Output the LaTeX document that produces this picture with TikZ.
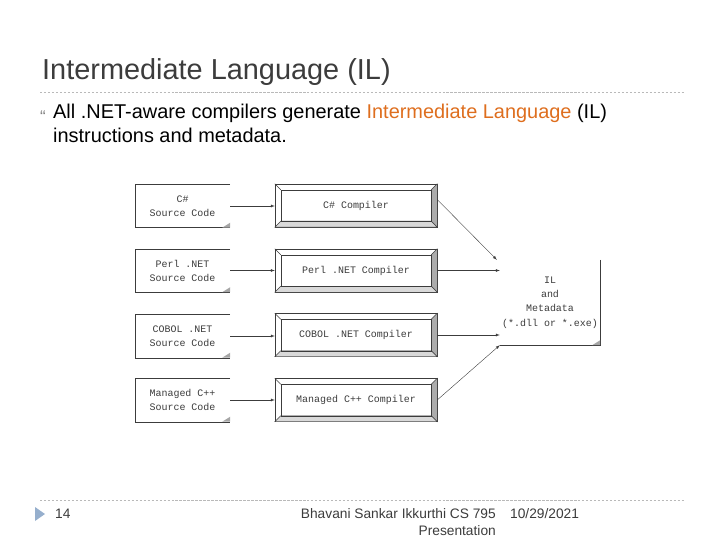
\documentclass[tikz,border=0pt]{standalone}
\usepackage{fontspec}
\setmainfont{Liberation Sans}
\setmonofont{Liberation Mono}
\usetikzlibrary{arrows,calc,positioning}
\definecolor{ilorange}{RGB}{222,110,30}
\definecolor{titlegray}{RGB}{60,60,60}
\definecolor{codegray}{RGB}{60,60,60}
\definecolor{markblue}{RGB}{150,175,205}
\tikzstyle{srcbox}=[rectangle,minimum width=95bp,minimum height=43bp,inner sep=0pt,align=center,font=\ttfamily\fontsize{10}{14}\selectfont,text=codegray]
\tikzstyle{compbox}=[rectangle,draw=codegray,minimum width=162bp,minimum height=43bp,inner sep=0pt,font=\ttfamily\fontsize{10}{14}\selectfont,text=codegray]
\tikzstyle{ildoc}=[rectangle,minimum width=100bp,minimum height=85bp,inner sep=0pt,align=center,font=\ttfamily\fontsize{10}{14.5}\selectfont,text=codegray]
\tikzstyle{edge} = [draw,thin,->,>=latex,codegray]
\tikzstyle{rule} = [draw=gray!55,dash pattern=on 2.5pt off 1.5pt]
\tikzstyle{footer} = [font=\fontsize{13.8}{16}\selectfont,text=titlegray,inner sep=0pt]

\begin{document}
\begin{tikzpicture}[x=1bp,y=-1bp]
\useasboundingbox (0,0) rectangle (720,540);

%title and text
    \node[anchor=base west,inner sep=0pt,text=titlegray,font=\fontsize{29}{32}\selectfont] (title) at (42,80) {Intermediate Language (IL)};
    \path[rule] (40,92) -- (685,92);
    \node[anchor=base west,inner sep=0pt,text=gray,font=\fontsize{17}{17}\selectfont] (bullet) at (40,123) {“};
    \node[anchor=base west,inner sep=0pt,font=\fontsize{20}{24}\selectfont] (line1) at (53,119) {All .NET-aware compilers generate \textcolor{ilorange}{Intermediate Language} (IL)};
    \node[anchor=base west,inner sep=0pt,font=\fontsize{20}{24}\selectfont] (line2) at (53,143) {instructions and metadata.};

%source files and compilers
  \foreach \pos/\name/\label in {{(182.5,206)/S1/C\#}, {(182.5,270.5)/S2/Perl .NET}, {(182.5,336)/S3/COBOL .NET}, {(182.5,400)/S4/Managed C++}}
  {
        \node[srcbox] (\name) at \pos {\label\\Source Code};
        \draw[codegray] (\name.north east) -- (\name.north west) -- (\name.south west) -- (\name.south east);
        \fill[gray!70] ($(\name.south east)+(-8,0)$) -- ($(\name.south east)+(0,-5)$) -- (\name.south east) -- cycle;
  }

  \foreach \pos/\name/\label in {{(356,205.5)/C1/C\# Compiler}, {(356,270.5)/C2/Perl .NET Compiler}, {(356,335)/C3/COBOL .NET Compiler}, {(356,400)/C4/Managed C++ Compiler}}
  {
        \node[compbox] (\name) at \pos {\label};
        \filldraw[fill=gray!65,draw=codegray] (\name.north east) -- (\name.south east) -- ($(\name.south east)+(-6,-6)$) -- ($(\name.north east)+(-6,6)$) -- cycle;
        \filldraw[fill=gray!30,draw=codegray] (\name.south west) -- (\name.south east) -- ($(\name.south east)+(-6,-6)$) -- ($(\name.south west)+(6,-6)$) -- cycle;
        \draw[codegray] ($(\name.north west)+(6,6)$) rectangle ($(\name.south east)+(-6,-6)$);
        \draw[codegray] (\name.north west) -- ($(\name.north west)+(6,6)$);
  }

%IL file
    \node[ildoc] (IL) at (550,302.5) {IL\\and\\Metadata\\(*.dll or *.exe)};
    \draw[codegray] (IL.north east) -- (IL.south east) -- (IL.south west);
    \fill[gray!70] ($(IL.south east)+(-8,0)$) -- ($(IL.south east)+(0,-5)$) -- (IL.south east) -- cycle;

    % connect sources, compilers and IL
   \foreach \source/ \dest in {S1/C1, S2/C2, S3/C3, S4/C4}
          \path[edge] (\source.east) -- (\source.east -| \dest.west);
   \path[edge] ($(C1.east)+(0,-6)$) -- ($(IL.north west)+(-3,0)$);
   \path[edge] (C2.east) -- (C2.east -| IL.west);
   \path[edge] (C3.east) -- (C3.east -| IL.west);
   \path[edge] (C4.east) -- (IL.south west);

%footer
    \path[rule] (40,500) -- (685,500);
    \fill[markblue] (35,507) -- (45,514) -- (35,521) -- cycle;
    \node[footer,anchor=base west] (page) at (55,518) {14};
    \node[footer,anchor=base east] (author) at (496,518) {Bhavani Sankar Ikkurthi CS 795};
    \node[footer,anchor=base east] (pres) at (496,535) {Presentation};
    \node[footer,anchor=base west] (date) at (510,518) {10/29/2021};

   \end{tikzpicture}
\end{document}
